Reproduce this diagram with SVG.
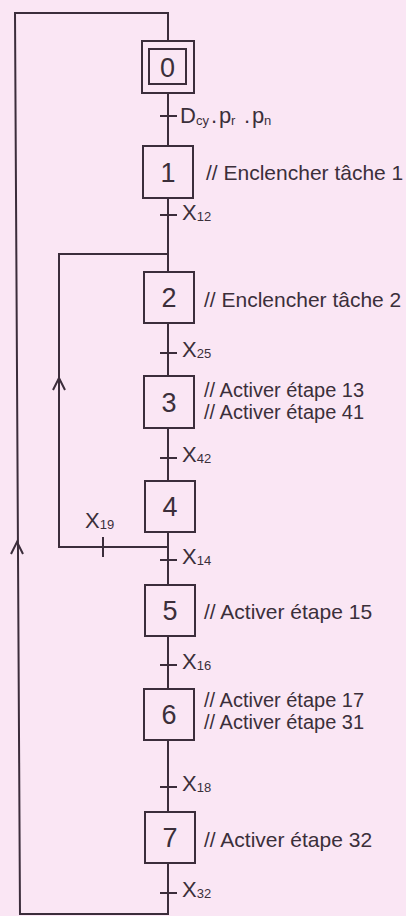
<svg xmlns="http://www.w3.org/2000/svg" width="406" height="916" viewBox="0 0 406 916">
<style>
.ln{fill:none;stroke:#3b2d3b;stroke-width:2}
.box{fill:#fae6f4;stroke:#3b2d3b;stroke-width:2}
.num{font-family:"Liberation Sans",Arial,sans-serif;font-size:27px;fill:#3b2f3a;text-anchor:middle}
.cm{font-family:"Liberation Sans",Arial,sans-serif;font-size:21px;fill:#3b2f3a}
.cm2{font-family:"Liberation Sans",Arial,sans-serif;font-size:20px;fill:#3b2f3a}
.tr{font-family:"Liberation Sans",Arial,sans-serif;font-size:22px;fill:#3b2f3a}
.sub{font-size:13px}
</style>
<rect x="0" y="0" width="406" height="916" fill="#fae6f4"/>
<g id="connectors">
  <polyline class="ln" points="168,41 168,13 15,13 20,914 168,914 168,863"/>
  <line class="ln" x1="168" y1="93" x2="168" y2="146"/>
  <line class="ln" x1="168" y1="198" x2="168" y2="272"/>
  <line class="ln" x1="168" y1="323" x2="168" y2="376"/>
  <line class="ln" x1="168" y1="428" x2="168" y2="481"/>
  <line class="ln" x1="168" y1="532" x2="168" y2="585"/>
  <line class="ln" x1="168" y1="636" x2="168" y2="689"/>
  <line class="ln" x1="168" y1="741" x2="168" y2="812"/>
  <polyline class="ln" points="168,547 59,547 59,254 168,254"/>
  <polyline class="ln" points="53,390 59,378 65,390"/>
  <polyline class="ln" points="11,554 17,542 23,554"/>
  <g id="ticks">
    <line class="ln" x1="160" y1="116" x2="177" y2="116"/>
    <line class="ln" x1="160" y1="215" x2="177" y2="215"/>
    <line class="ln" x1="160" y1="353" x2="177" y2="353"/>
    <line class="ln" x1="160" y1="458" x2="177" y2="458"/>
    <line class="ln" x1="160" y1="560" x2="177" y2="560"/>
    <line class="ln" x1="160" y1="665" x2="177" y2="665"/>
    <line class="ln" x1="160" y1="787" x2="177" y2="787"/>
    <line class="ln" x1="160" y1="893" x2="177" y2="893"/>
    <line class="ln" x1="103" y1="537" x2="103" y2="557"/>
  </g>
  <g id="labels">
    <text class="tr" y="123"><tspan x="180">D</tspan><tspan class="sub" x="196" dy="2">cy</tspan><tspan x="211" dy="-2">.</tspan><tspan x="219">p</tspan><tspan class="sub" x="231" dy="2">r</tspan><tspan x="244" dy="-2">.</tspan><tspan x="252">p</tspan><tspan class="sub" x="264" dy="2">n</tspan></text>
    <text class="tr" x="182" y="220">X<tspan class="sub" dy="1">12</tspan></text>
    <text class="tr" x="182" y="357">X<tspan class="sub" dy="1">25</tspan></text>
    <text class="tr" x="182" y="462">X<tspan class="sub" dy="1">42</tspan></text>
    <text class="tr" x="85" y="528">X<tspan class="sub" dy="1">19</tspan></text>
    <text class="tr" x="182" y="564">X<tspan class="sub" dy="1">14</tspan></text>
    <text class="tr" x="182" y="669">X<tspan class="sub" dy="1">16</tspan></text>
    <text class="tr" x="182" y="791">X<tspan class="sub" dy="1">18</tspan></text>
    <text class="tr" x="182" y="897">X<tspan class="sub" dy="1">32</tspan></text>
  </g>
</g>
<g id="step0">
  <rect class="box" x="142" y="41" width="52" height="52"/>
  <rect class="box" x="149" y="49" width="37" height="35"/>
  <text class="num" x="167.5" y="77">0</text>
</g>
<g id="step1">
  <rect class="box" x="143" y="146" width="50" height="52"/>
  <text class="num" x="168" y="182">1</text>
  <text class="cm" x="206" y="180">// Enclencher tâche 1</text>
</g>
<g id="step2">
  <rect class="box" x="144" y="272" width="50" height="51"/>
  <text class="num" x="169" y="307">2</text>
  <text class="cm" x="204" y="307">// Enclencher tâche 2</text>
</g>
<g id="step3">
  <rect class="box" x="144" y="376" width="50" height="52"/>
  <text class="num" x="169" y="412">3</text>
  <text class="cm2" x="204" y="397">// Activer étape 13</text>
  <text class="cm2" x="204" y="419">// Activer étape 41</text>
</g>
<g id="step4">
  <rect class="box" x="145" y="481" width="50" height="51"/>
  <text class="num" x="170" y="516">4</text>
</g>
<g id="step5">
  <rect class="box" x="145" y="585" width="50" height="51"/>
  <text class="num" x="170" y="620">5</text>
  <text class="cm" x="204" y="619">// Activer étape 15</text>
</g>
<g id="step6">
  <rect class="box" x="144" y="689" width="50" height="51"/>
  <text class="num" x="169" y="724">6</text>
  <text class="cm2" x="204" y="707">// Activer étape 17</text>
  <text class="cm2" x="204" y="729">// Activer étape 31</text>
</g>
<g id="step7">
  <rect class="box" x="145" y="812" width="50" height="51"/>
  <text class="num" x="170" y="847">7</text>
  <text class="cm" x="204" y="847">// Activer étape 32</text>
</g>
</svg>
